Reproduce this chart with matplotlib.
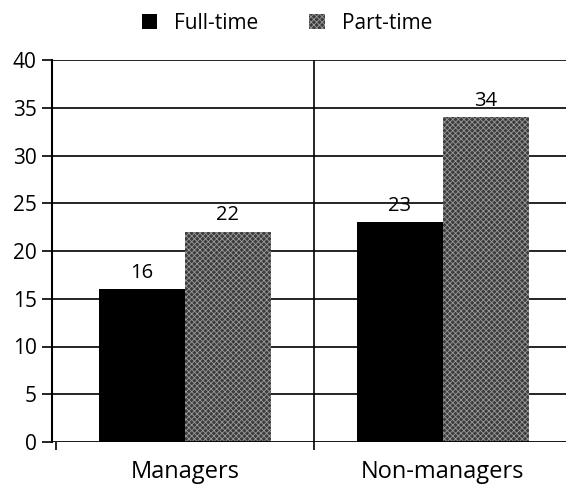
import numpy as np
import matplotlib.pyplot as plt

plt.rcParams['font.family'] = ['Open Sans', 'DejaVu Sans']
plt.rcParams['hatch.linewidth'] = 0.6

categories = ['Managers', 'Non-managers']
full_time = [16, 23]
part_time = [22, 34]
series_names = ['Full-time', 'Part-time']

fig = plt.figure(figsize=(5.68, 4.88), dpi=100)
ax = fig.add_axes([52/568, 46/488, 514/568, 382/488])

x = np.arange(len(categories))
w = 0.333

# horizontal grid lines
for yv in range(5, 45, 5):
    ax.axhline(yv, color='black', lw=1.2, zorder=1)
ax.axhline(0, color='black', lw=2, zorder=3)
# divider between groups
ax.axvline(0.5, color='black', lw=1.2, zorder=1)

b1 = ax.bar(x - w/2, full_time, w, color='black', zorder=2, label=series_names[0])
b2 = ax.bar(x + w/2, part_time, w, facecolor='#3c3c3c', edgecolor='#9a9a9a',
            hatch='xxxxxx', linewidth=0, zorder=2, label=series_names[1])

for rect, v in list(zip(b1, full_time)) + list(zip(b2, part_time)):
    ax.text(rect.get_x() + rect.get_width()/2, v + 0.7, str(v),
            ha='center', va='bottom', fontsize=14.5)

ax.set_xlim(-0.515, 1.477)
ax.set_ylim(0, 40)
ax.set_yticks(range(0, 45, 5))
ax.set_xticks([-0.5, 0.5])
ax.set_xticklabels(['', ''])
ax.tick_params(axis='y', length=7, width=1.2, labelsize=15, pad=4)
ax.tick_params(axis='x', length=6, width=1.2)
for c, lab in zip(x, categories):
    ax.text(c, -1.9, lab, ha='center', va='top', fontsize=17)

for s in ['top', 'right', 'bottom']:
    ax.spines[s].set_visible(False)
ax.spines['left'].set_linewidth(1.5)

leg = fig.legend(handles=[b1, b2], loc='upper center', bbox_to_anchor=(0.505, 1.012),
                 ncol=2, frameon=False, fontsize=15, handlelength=0.75,
                 handleheight=0.75, columnspacing=2.45, handletextpad=0.8)

fig.savefig('out.png', dpi=100)
